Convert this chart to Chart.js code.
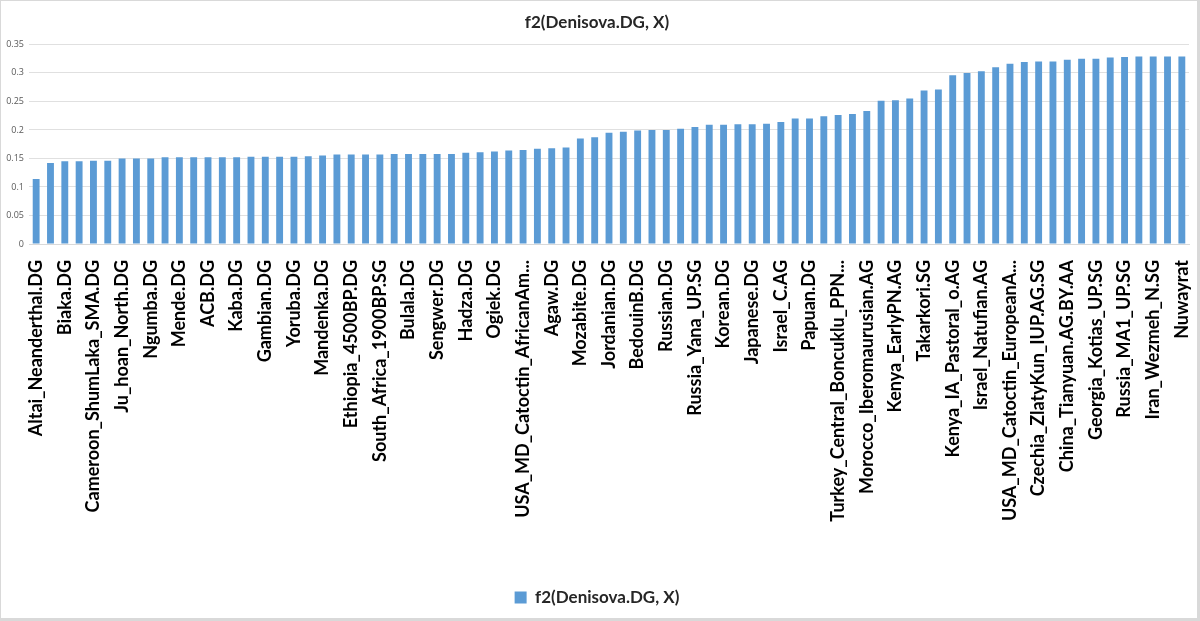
<!DOCTYPE html>
<html>
<head>
<meta charset="utf-8">
<script src="https://cdn.jsdelivr.net/npm/chart.js@4.4.0/dist/chart.umd.min.js"></script>
<style>
  body { margin: 0; background: #fff; }
  #wrap { width: 1200px; height: 621px; box-sizing: border-box; border: 1px solid #d9d9d9; border-right-width: 3px; border-bottom-width: 3px; }
</style>
</head>
<body>
<div id="wrap"><canvas id="graf"></canvas></div>
<script>
// every second category is labelled in the picture; the unlabelled ones are blank
const populace = [
  "Altai_Neanderthal.DG", "", "Biaka.DG", "", "Cameroon_ShumLaka_SMA.DG", "", "Ju_hoan_North.DG", "",
  "Ngumba.DG", "", "Mende.DG", "", "ACB.DG", "", "Kaba.DG", "", "Gambian.DG", "", "Yoruba.DG", "",
  "Mandenka.DG", "", "Ethiopia_4500BP.DG", "", "South_Africa_1900BP.SG", "", "Bulala.DG", "",
  "Sengwer.DG", "", "Hadza.DG", "", "Ogiek.DG", "", "USA_MD_Catoctin_AfricanAm...", "", "Agaw.DG", "",
  "Mozabite.DG", "", "Jordanian.DG", "", "BedouinB.DG", "", "Russian.DG", "", "Russia_Yana_UP.SG", "",
  "Korean.DG", "", "Japanese.DG", "", "Israel_C.AG", "", "Papuan.DG", "", "Turkey_Central_Boncuklu_PPN...", "",
  "Morocco_Iberomaurusian.AG", "", "Kenya_EarlyPN.AG", "", "Takarkori.SG", "", "Kenya_IA_Pastoral_o.AG", "",
  "Israel_Natufian.AG", "", "USA_MD_Catoctin_EuropeanA...", "", "Czechia_ZlatyKun_IUP.AG.SG", "",
  "China_Tianyuan.AG.BY.AA", "", "Georgia_Kotias_UP.SG", "", "Russia_MA1_UP.SG", "", "Iran_Wezmeh_N.SG", "",
  "Nuwayrat"
];
const hodnotyF2 = [
  0.114, 0.142, 0.145, 0.145, 0.146, 0.146, 0.150, 0.150, 0.150, 0.152,
  0.152, 0.152, 0.152, 0.152, 0.152, 0.153, 0.153, 0.153, 0.153, 0.154,
  0.155, 0.157, 0.157, 0.157, 0.157, 0.158, 0.158, 0.158, 0.158, 0.158,
  0.160, 0.161, 0.162, 0.164, 0.165, 0.167, 0.168, 0.169, 0.185, 0.187,
  0.195, 0.197, 0.199, 0.200, 0.200, 0.202, 0.205, 0.209, 0.209, 0.210,
  0.210, 0.211, 0.214, 0.220, 0.220, 0.224, 0.226, 0.228, 0.233, 0.251,
  0.252, 0.255, 0.269, 0.271, 0.296, 0.300, 0.303, 0.310, 0.316, 0.319,
  0.320, 0.320, 0.323, 0.325, 0.325, 0.327, 0.328, 0.329, 0.329, 0.329,
  0.329
];
const osaY = [0, 0.05, 0.1, 0.15, 0.2, 0.25, 0.3, 0.35];
const nazevRady = "f2(Denisova.DG, X)";

const ctx = document.getElementById("graf").getContext("2d");
new Chart(ctx, {
  type: "bar",
  data: {
    labels: populace,
    datasets: [{
      label: nazevRady,
      data: hodnotyF2,
      backgroundColor: "#5b9bd5",
      barPercentage: 0.48,
      categoryPercentage: 1.0
    }]
  },
  options: {
    responsive: true,
    maintainAspectRatio: false,
    animation: false,
    layout: { padding: { left: 4, right: 8, top: 4, bottom: 2 } },
    plugins: {
      title: {
        display: true,
        text: nazevRady,
        color: "#262626",
        font: { family: "Lato", size: 17, weight: "bold" },
        padding: { top: 7, bottom: 12 }
      },
      legend: {
        position: "bottom",
        labels: {
          color: "#262626",
          font: { family: "Lato", size: 17, weight: "bold" },
          boxWidth: 12, boxHeight: 12, padding: 10
        }
      },
      tooltip: { enabled: false }
    },
    scales: {
      x: {
        grid: { display: false, drawTicks: false },
        border: { color: "#d9d9d9" },
        afterFit: function(s) { s.height = 335; s.paddingLeft = 0; s.paddingRight = 0; },
        ticks: {
          autoSkip: false,
          minRotation: 90, maxRotation: 90,
          padding: 16,
          color: "#000",
          font: { family: "Lato", size: 18, weight: "bold" }
        }
      },
      y: {
        min: 0, max: 0.35,
        afterBuildTicks: function(axis) { axis.ticks = osaY.map(function(v) { return { value: v }; }); },
        afterFit: function(s) { s.width = 24; },
        grid: { color: "#e0e0e0", drawTicks: false },
        border: { display: false },
        ticks: {
          padding: 5,
          color: "#595959",
          font: { family: "Open Sans", size: 9 },
          callback: function(v) { return String(Math.round(v * 100) / 100); }
        }
      }
    }
  }
});
</script>
</body>
</html>
